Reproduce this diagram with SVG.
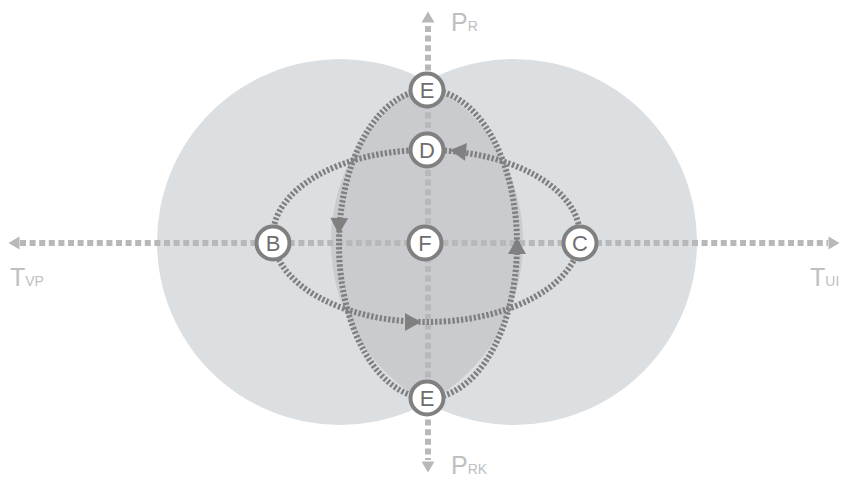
<svg xmlns="http://www.w3.org/2000/svg" xmlns:xlink="http://www.w3.org/1999/xlink" width="845" height="481" viewBox="0 0 845 481">
<style>
.bg{fill:#dcdfe2}
.lens{fill:#c9cbce}
.axis{fill:none;stroke:#b7b8b9;stroke-width:6;stroke-dasharray:6 3.6}
.axhead{fill:#b7b8b9}
.loop{fill:none;stroke:#808080;stroke-width:6;stroke-dasharray:2.4 1.9}
.ahead{fill:#808080}
.node circle{fill:#ffffff;stroke:#808080;stroke-width:4}
.node text{font-family:"Liberation Sans","DejaVu Sans",sans-serif;font-size:22px;fill:#6e6e6e;text-anchor:middle}
.lbl{font-family:"Liberation Sans","DejaVu Sans",sans-serif;fill:#c0c0c0}
.big{font-size:25px}
.small{font-size:14px}
</style>
<defs>
<path id="arr" d="M8,0 L-8,-9 L-8,9 Z"/>
<path id="axarr" d="M5.5,0 L-5.5,-6.5 L-5.5,6.5 Z"/>
</defs>
<g id="background">
<circle class="bg" cx="340" cy="242" r="183"/>
<circle class="bg" cx="514" cy="242" r="183"/>
<path class="lens" d="M427,81 A183,183 0 0,1 427,403 A183,183 0 0,1 427,81 Z"/>
</g>
<g id="connectors">
<line class="axis" x1="20" y1="243" x2="828" y2="243"/>
<line class="axis" x1="428" y1="26" x2="428" y2="460"/>
<use href="#axarr" class="axhead" transform="translate(14,243) rotate(180)"/>
<use href="#axarr" class="axhead" transform="translate(834,243)"/>
<use href="#axarr" class="axhead" transform="translate(428,17) rotate(-90)"/>
<use href="#axarr" class="axhead" transform="translate(428,467) rotate(90)"/>
<ellipse class="loop" cx="426.5" cy="236" rx="153.5" ry="86"/>
<ellipse class="loop" cx="428" cy="244" rx="89" ry="154"/>
<use href="#arr" class="ahead" transform="translate(458,151) rotate(-174)"/>
<use href="#arr" class="ahead" transform="translate(413,322) rotate(0)"/>
<use href="#arr" class="ahead" transform="translate(339,226) rotate(92)"/>
<use href="#arr" class="ahead" transform="translate(517,246) rotate(-90)"/>
</g>
<g id="node-E-top" class="node"><circle cx="427" cy="90" r="16.5"/><text x="427" y="98">E</text></g>
<g id="node-D" class="node"><circle cx="427" cy="150" r="16.5"/><text x="427" y="158">D</text></g>
<g id="node-B" class="node"><circle cx="273" cy="243" r="16.5"/><text x="273" y="251">B</text></g>
<g id="node-F" class="node"><circle cx="425" cy="243" r="16.5"/><text x="425" y="251">F</text></g>
<g id="node-C" class="node"><circle cx="580" cy="243" r="16.5"/><text x="580" y="251">C</text></g>
<g id="node-E-bottom" class="node"><circle cx="427" cy="398" r="16.5"/><text x="427" y="406">E</text></g>
<g id="labels">
<text class="lbl" x="451" y="31"><tspan class="big">P</tspan><tspan class="small">R</tspan></text>
<text class="lbl" x="451" y="474"><tspan class="big">P</tspan><tspan class="small">RK</tspan></text>
<text class="lbl" x="10" y="286"><tspan class="big">T</tspan><tspan class="small">VP</tspan></text>
<text class="lbl" x="810" y="286"><tspan class="big">T</tspan><tspan class="small">UI</tspan></text>
</g>
</svg>
